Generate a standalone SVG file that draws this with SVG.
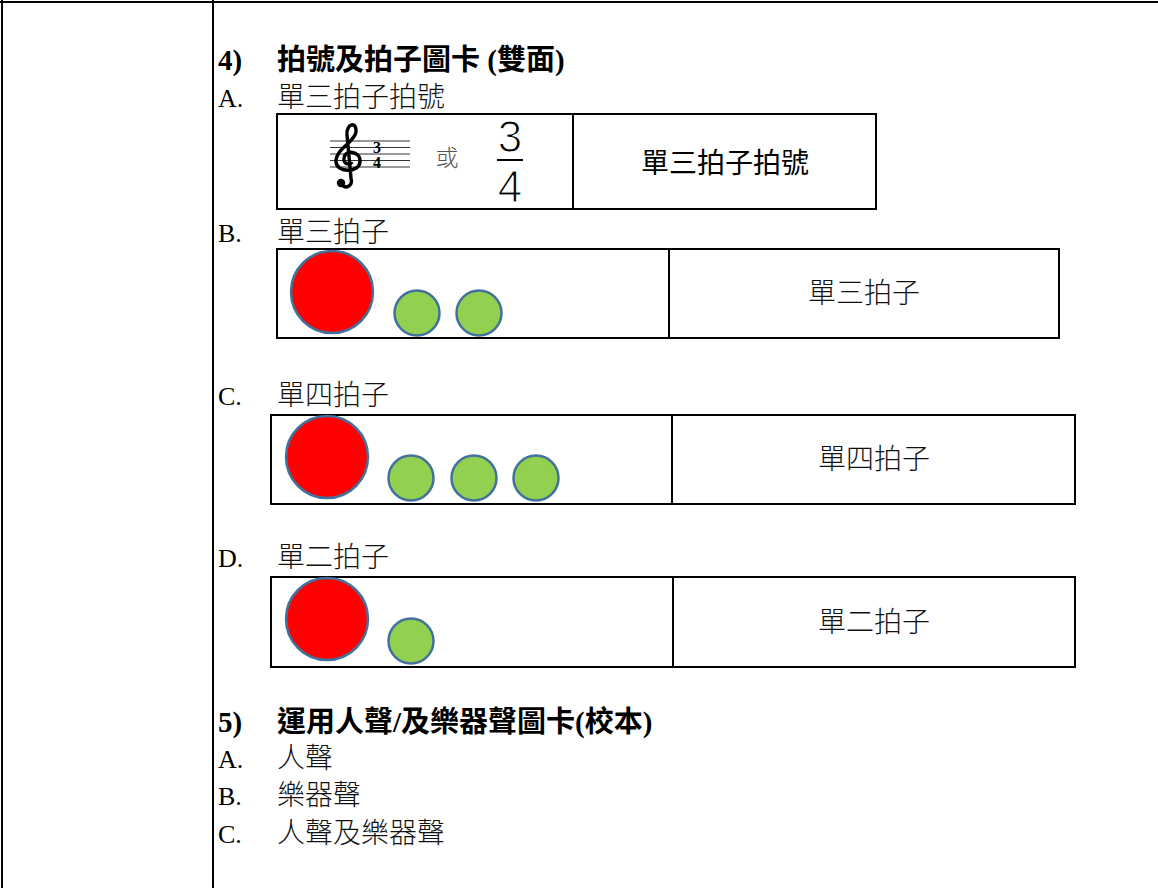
<svg xmlns="http://www.w3.org/2000/svg" width="1158" height="888" viewBox="0 0 1158 888">
<style>
.lat{font-family:"Liberation Serif","Times New Roman",serif;font-size:26px;fill:#000}
.cjk{font-family:"Noto Sans CJK TC","Noto Sans CJK SC",sans-serif;font-size:28px;font-weight:300;fill:#111}
.hd{font-family:"Liberation Serif","Noto Sans CJK TC",serif;font-size:29px;font-weight:bold;fill:#000}
.cell{font-family:"Noto Sans CJK TC","Noto Sans CJK SC",sans-serif;font-size:28px;font-weight:300;fill:#111;text-anchor:middle}
.box{fill:#fff;stroke:#000;stroke-width:2}
.div{stroke:#000;stroke-width:2}
.big{fill:#ff0000;stroke:#41719c;stroke-width:2.5}
.sm{fill:#92d050;stroke:#41719c;stroke-width:2.5}
.staff{stroke:#333;stroke-width:1.2}
.tbl{stroke:#000;stroke-width:2;fill:none}
.frac{font-family:"Liberation Sans",Arial,sans-serif;font-size:44px;fill:#000;stroke:#fff;stroke-width:1.2;text-anchor:middle}
</style>
<rect width="1158" height="888" fill="#fff"/>
<g id="table">
<line class="tbl" x1="0" y1="2" x2="1158" y2="2"/>
<line class="tbl" x1="2" y1="0" x2="2" y2="888"/>
<line class="tbl" x1="213" y1="0" x2="213" y2="888"/>
</g>
<g id="heading4">
<text class="hd" x="218" y="70"><tspan>4)</tspan><tspan x="277">拍號及拍子圖卡 (雙面)</tspan></text>
</g>
<g id="itemA">
<text class="lat" x="218" y="107">A.</text>
<text class="cjk" x="277" y="107">單三拍子拍號</text>
</g>
<g id="cardA">
<rect class="box" x="277" y="114" width="599" height="95"/>
<line class="div" x1="573" y1="114" x2="573" y2="209"/>
<g id="staff">
<line class="staff" x1="330" y1="141" x2="410" y2="141"/>
<line class="staff" x1="330" y1="147.5" x2="410" y2="147.5"/>
<line class="staff" x1="330" y1="154" x2="410" y2="154"/>
<line class="staff" x1="330" y1="160.5" x2="410" y2="160.5"/>
<line class="staff" x1="330" y1="167" x2="410" y2="167"/>
<path d="M341 184 C346 190 353 186 351 178 L347 135 C346 123 357 121 356 132 C355 142 335 149 336 162 C337 173 359 173 360 162 C361 151 345 149 344 158 C343 164 350 166 352 162" fill="none" stroke="#000" stroke-width="3.4"/>
<circle cx="341" cy="183" r="4.2" fill="#000"/>
<text x="377" y="153" font-family="Liberation Serif,serif" font-size="16" font-weight="bold" text-anchor="middle">3</text>
<text x="377" y="168" font-family="Liberation Serif,serif" font-size="16" font-weight="bold" text-anchor="middle">4</text>
</g>
<text x="447" y="166" font-family="Noto Sans CJK TC,sans-serif" font-size="23" font-weight="300" fill="#555" text-anchor="middle">或</text>
<text class="frac" x="510" y="152">3</text>
<line x1="497" y1="160" x2="523" y2="160" stroke="#000" stroke-width="2"/>
<text class="frac" x="510" y="202">4</text>
<text class="cell" x="725" y="173" style="fill:#000;font-weight:400">單三拍子拍號</text>
</g>
<g id="itemB">
<text class="lat" x="218" y="242">B.</text>
<text class="cjk" x="277" y="242">單三拍子</text>
</g>
<g id="cardB">
<rect class="box" x="277" y="249" width="782" height="89"/>
<line class="div" x1="669" y1="249" x2="669" y2="338"/>
<circle class="big" cx="332" cy="292" r="41"/>
<circle class="sm" cx="417" cy="313" r="22.5"/>
<circle class="sm" cx="479" cy="313" r="22.5"/>
<text class="cell" x="864" y="303">單三拍子</text>
</g>
<g id="itemC">
<text class="lat" x="218" y="405">C.</text>
<text class="cjk" x="277" y="405">單四拍子</text>
</g>
<g id="cardC">
<rect class="box" x="271" y="415" width="804" height="89"/>
<line class="div" x1="672" y1="415" x2="672" y2="504"/>
<circle class="big" cx="327" cy="457" r="41"/>
<circle class="sm" cx="411" cy="478" r="22.5"/>
<circle class="sm" cx="474" cy="478" r="22.5"/>
<circle class="sm" cx="536" cy="478" r="22.5"/>
<text class="cell" x="874" y="469">單四拍子</text>
</g>
<g id="itemD">
<text class="lat" x="218" y="567">D.</text>
<text class="cjk" x="277" y="567">單二拍子</text>
</g>
<g id="cardD">
<rect class="box" x="271" y="577" width="804" height="90"/>
<line class="div" x1="673" y1="577" x2="673" y2="667"/>
<circle class="big" cx="327" cy="619" r="41"/>
<circle class="sm" cx="411" cy="641" r="22.5"/>
<text class="cell" x="874" y="632">單二拍子</text>
</g>
<g id="heading5">
<text class="hd" x="218" y="732"><tspan>5)</tspan><tspan x="277">運用人聲/及樂器聲圖卡(校本)</tspan></text>
</g>
<g id="list5">
<text class="lat" x="218" y="768">A.</text>
<text class="cjk" x="277" y="768">人聲</text>
<text class="lat" x="218" y="805">B.</text>
<text class="cjk" x="277" y="805">樂器聲</text>
<text class="lat" x="218" y="843">C.</text>
<text class="cjk" x="277" y="843">人聲及樂器聲</text>
</g>
<g id="connectors"/>
</svg>
